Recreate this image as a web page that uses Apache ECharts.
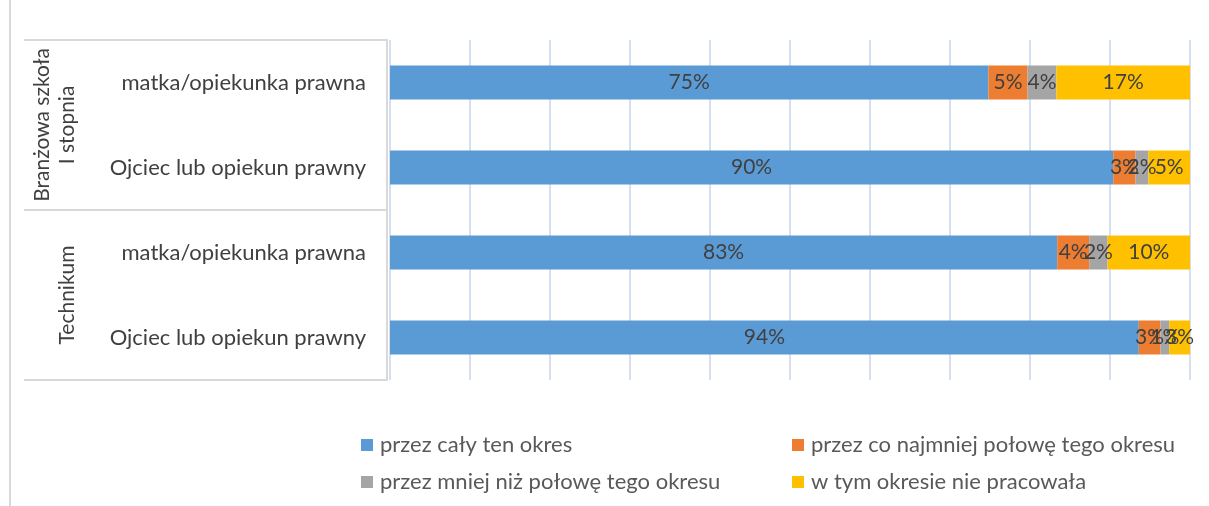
<!DOCTYPE html>
<html lang="pl">
<head>
    <meta charset="utf-8">
    <title>Praca rodziców</title>
    <script src="https://cdn.jsdelivr.net/npm/echarts@6/dist/echarts.min.js"></script>
</head>
<body style="margin:0;background:#fff">
    <div id="main" style="width:1209px;height:506px;"></div>
    <script type="text/javascript">
        // kategorie (od góry)
        var rodzic = ['matka/opiekunka prawna', 'Ojciec lub opiekun prawny', 'matka/opiekunka prawna', 'Ojciec lub opiekun prawny'];
        var szkola = ['Branżowa szkoła\nI stopnia', 'Technikum'];

        var nazwy = ['przez cały ten okres', 'przez co najmniej połowę tego okresu', 'przez mniej niż połowę tego okresu', 'w tym okresie nie pracowała'];
        var kolory = ['#5b9bd5', '#ed7d31', '#a5a5a5', '#ffc000'];

        // wartości w %
        var calyOkres = [74.8, 90.4, 83.4, 93.6];
        var polowa = [4.9, 2.8, 4.0, 2.7];
        var mniejNizPolowa = [3.6, 1.6, 2.3, 1.1];
        var niePracowala = [16.7, 5.2, 10.3, 2.6];

        var dane = [calyOkres, polowa, mniejNizPolowa, niePracowala];
        var font = 'Lato, "Liberation Sans", sans-serif';

        var myChart = echarts.init(document.getElementById('main'));

        var series = nazwy.map(function (n, i) {
            return {
                name: n,
                type: 'bar',
                stack: 'razem',
                barWidth: 34,
                itemStyle: { color: kolory[i] },
                label: {
                    show: true,
                    position: 'inside',
                    color: '#404040',
                    fontSize: 21,
                    fontFamily: font,
                    formatter: function (p) { return Math.round(p.value) + '%'; }
                },
                data: dane[i]
            };
        });

        var legendText = { color: '#595959', fontSize: 22, fontFamily: font, padding: [0, 0, 0, 2] };

        myChart.setOption({
            animation: false,
            textStyle: { fontFamily: font },
            grid: { left: 390, right: 19, top: 40, bottom: 126 },
            xAxis: {
                type: 'value',
                min: 0, max: 100, interval: 10,
                axisLabel: { show: false },
                axisLine: { show: false },
                axisTick: { show: false },
                splitLine: { lineStyle: { color: '#d5e1f0', width: 2 } }
            },
            yAxis: [{
                type: 'category',
                inverse: true,
                data: rodzic,
                axisLine: { show: false },
                axisTick: { show: false },
                axisLabel: { color: '#404040', fontSize: 22, margin: 24, fontFamily: font, interval: 0 }
            }, {
                type: 'category',
                inverse: true,
                position: 'left',
                offset: 3,
                data: szkola,
                axisLine: { show: true, lineStyle: { color: '#d9d9d9', width: 2 } },
                axisTick: { show: true, length: 363, lineStyle: { color: '#d9d9d9', width: 2 } },
                axisLabel: { color: '#404040', fontSize: 21, rotate: 90, margin: 307, lineHeight: 25, fontFamily: font, interval: 0 }
            }],
            legend: [{
                orient: 'vertical',
                left: 356, top: 429,
                itemWidth: 12, itemHeight: 12, itemGap: 15,
                icon: 'rect',
                textStyle: legendText,
                data: [nazwy[0], nazwy[2]]
            }, {
                orient: 'vertical',
                left: 787, top: 429,
                itemWidth: 12, itemHeight: 12, itemGap: 15,
                icon: 'rect',
                textStyle: legendText,
                data: [nazwy[1], nazwy[3]]
            }],
            graphic: [{
                type: 'line',
                shape: { x1: 10, y1: 0, x2: 10, y2: 506 },
                style: { stroke: '#d9d9d9', lineWidth: 2 }
            }],
            series: series
        });
    </script>
</body>
</html>
